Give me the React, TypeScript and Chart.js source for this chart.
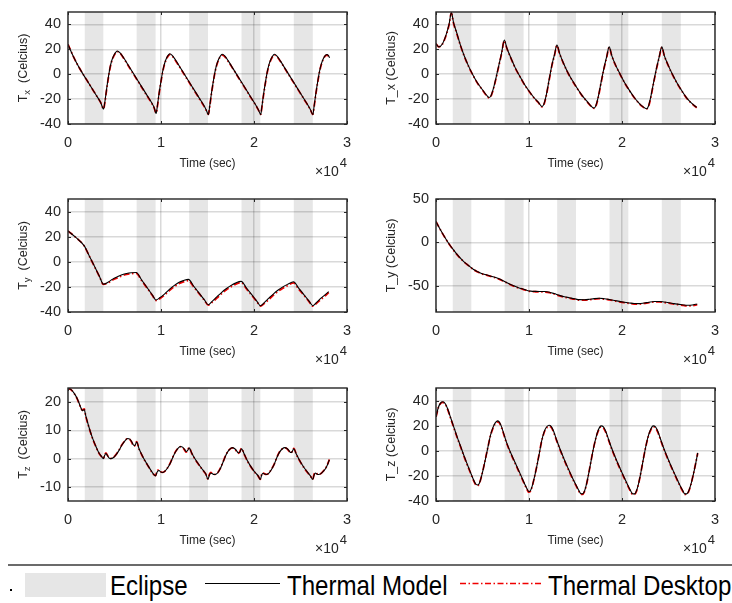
import React, { useEffect, useRef } from "react";
import { Chart, registerables } from "chart.js";

Chart.register(...registerables);

// ---------------- data ----------------
const eclipseStart = [1800, 7380, 13030, 18660, 24280];
const eclipseEnd = [3800, 9420, 15050, 20680, 26320];

const xTickValues = [0, 10000, 20000, 30000];
const xTickLabels = ["0", "1", "2", "3"];

const yTicksStd = [-40, -20, 0, 20, 40];
const yTicksTyRight = [-50, 0, 50];
const yTicksTzLeft = [-10, 0, 10, 20];

// Panel 1: T_x (left)
const p1Time = [0, 500, 1000, 1500, 2000, 2500, 3000, 3500, 3830, 3950, 4150, 4350, 4550, 4750, 4950, 5150, 5300, 5600, 6000, 6500, 7000, 7500, 8000, 8500, 9000, 9250, 9480, 9600, 9800, 10000, 10200, 10400, 10600, 10800, 10950, 11200, 11600, 12100, 12600, 13100, 13600, 14100, 14600, 14850, 15100, 15220, 15420, 15620, 15820, 16020, 16220, 16420, 16600, 16850, 17250, 17750, 18250, 18750, 19250, 19750, 20250, 20500, 20720, 20840, 21040, 21240, 21440, 21640, 21840, 22040, 22200, 22450, 22850, 23350, 23850, 24350, 24850, 25350, 25850, 26100, 26330, 26450, 26650, 26850, 27050, 27250, 27450, 27650, 27850, 28000, 28130];
const p1Model = [24, 15.5, 8, 1.5, -4.5, -10.5, -16.5, -22.5, -28,
  -23, -12, -2, 6.5, 12, 15.5, 17.8, 18.7,
  17.2, 13, 7, 1, -5, -11, -17, -23, -26.5, -31.5,
  -26, -15, -5.5, 3, 9, 13, 15.5, 16.5,
  15.2, 11, 5, -1, -7, -13, -19, -25, -28.5, -32.5,
  -26.5, -15.5, -6, 2.5, 8.5, 12.5, 15, 16,
  14.7, 10.5, 4.5, -1.5, -7.5, -13.5, -19.5, -25.5, -29, -32.5,
  -26.5, -15.5, -6, 2.5, 8.5, 12.5, 15, 16,
  14.7, 10.5, 4.5, -1.5, -7.5, -13.5, -19.5, -25.5, -29, -32.5,
  -26.5, -15.5, -6, 2.5, 8.5, 12.5, 15, 15.8, 15, 13.3];
const p1Desktop = [24, 15.5, 8, 1.5, -4.5, -10.5, -16.5, -22.5, -27.8,
  -23.5, -12.5, -2.5, 6, 11.5, 15, 17.3, 18.2,
  16.8, 12.6, 6.6, 0.6, -5.4, -11.4, -17.4, -23.3, -26.8, -31.2,
  -26.5, -15.5, -6, 2.5, 8.5, 12.5, 15, 15.8,
  14.7, 10.5, 4.6, -1.4, -7.4, -13.4, -19.4, -25.4, -28.8, -32.2,
  -27, -16, -6.5, 2, 8, 12, 14.5, 15.3,
  14.2, 10.1, 4.2, -1.8, -7.8, -13.8, -19.8, -25.7, -29.2, -32.3,
  -27, -16, -6.5, 2, 8, 12, 14.5, 15.4,
  14.3, 10.2, 4.2, -1.8, -7.8, -13.8, -19.8, -25.7, -29.2, -32.3,
  -27, -16, -6.5, 2, 8, 12, 14.5, 15.3, 14.5, 12.8];

// Panel 2: T_x (right)
const p2Time = [0, 300, 700, 1100, 1400, 1650, 1900, 2200, 2600, 3000, 3500, 4000, 4500, 5000, 5400, 5700, 5900, 6150, 6450, 6750, 7050, 7350, 7600, 8000, 8500, 9000, 9500, 10000, 10500, 11000, 11400, 11600, 11850, 12150, 12450, 12750, 13000, 13300, 13700, 14200, 14700, 15200, 15700, 16200, 16600, 17000, 17200, 17450, 17750, 18050, 18350, 18620, 18900, 19300, 19800, 20300, 20800, 21300, 21800, 22200, 22650, 22850, 23100, 23400, 23700, 24000, 24280, 24550, 24950, 25450, 25950, 26450, 26950, 27450, 28030];
const p2Model = [24.5, 22, 24.5, 32, 40, 49.5,
  41, 34, 24, 15.5, 6.5, -1, -7.5, -12.5, -16.5, -18.7,
  -17.5, -12, -3, 7, 17, 27.5,
  21.5, 14, 5.5, -1.5, -8, -13.5, -18.5, -22.5, -26,
  -24, -17, -5, 7, 16, 23.5,
  16.5, 9, 1, -5.5, -11.5, -17, -21.5, -25, -27.2,
  -25, -18, -6.5, 4.5, 14, 22,
  15, 7.5, 0, -7, -13, -18.5, -23, -25.8, -27.7,
  -25.5, -18, -6.5, 4.5, 14, 22,
  15, 7.5, -0.5, -7.5, -13.5, -19, -23, -26.7];
const p2Desktop = [24.5, 22, 24.3, 31.5, 39.5, 49,
  40.5, 33.5, 23.7, 15.2, 6.3, -1.2, -7.7, -12.7, -16.8, -19,
  -17.8, -12.5, -3.5, 6.5, 16.5, 27,
  21.2, 13.8, 5.3, -1.7, -8.2, -13.7, -18.7, -22.7, -26.3,
  -24.5, -17.5, -5.5, 6.5, 15.5, 23,
  16.2, 8.8, 0.8, -5.7, -11.7, -17.2, -21.7, -25.2, -27.4,
  -25.5, -18.5, -7, 4, 13.5, 21.5,
  14.8, 7.3, -0.2, -7.2, -13.2, -18.7, -23.2, -26, -27.9,
  -26, -18.5, -7, 4, 13.5, 21.5,
  14.8, 7.3, -0.7, -7.7, -13.7, -19.2, -23.2, -26.9];

// Panel 3: T_y (left)
const p3Time = [0, 900, 1750, 2300, 2900, 3400, 3800, 4300, 4800, 5300, 5800, 6300, 6800, 7350, 7900, 8500, 9100, 9450, 9900, 10400, 10900, 11400, 11900, 12400, 12950, 13500, 14100, 14650, 15080, 15500, 16000, 16500, 17000, 17500, 18000, 18620, 19200, 19800, 20300, 20700, 21100, 21600, 22100, 22600, 23100, 23600, 24250, 24800, 25400, 25900, 26320, 26700, 27200, 27600, 28030];
const p3Model = [24.5, 19, 12.7,
  4.5, -4.4, -11.9, -17.8,
  -16.3, -13.8, -12, -10.4, -9.3, -8.7, -8.5,
  -14.3, -20.5, -26.8, -30.5,
  -28.5, -25.5, -22, -19, -16.5, -15, -14,
  -19.3, -25, -30.1, -34.2,
  -31.5, -28, -24.5, -21.5, -19, -17, -15.6,
  -21, -26.6, -31.3, -35,
  -32.5, -29, -25.5, -22.5, -20, -18, -15.9,
  -21, -26.5, -31.1, -35,
  -32.5, -29, -26.5, -23.8];
const p3Desktop = [24.5, 19, 12.5,
  4.3, -4.6, -12.1, -18,
  -16.8, -14.5, -12.8, -11.2, -10.1, -9.5, -9.2,
  -14.8, -20.9, -27.1, -30.8,
  -29.3, -26.4, -23, -20, -17.5, -16, -15,
  -19.9, -25.4, -30.5, -34.5,
  -32.3, -29, -25.5, -22.5, -20, -18, -16.5,
  -21.7, -27.1, -31.7, -35.3,
  -33.3, -30, -26.5, -23.5, -21, -19, -16.8,
  -21.7, -27, -31.5, -35.3,
  -33.3, -30, -27.4, -24.5];

// Panel 4: T_y (right)
const p4Time = [0, 400, 800, 1300, 1860, 2400, 2930, 3500, 4000, 4500, 4890, 5500, 6140, 6700, 7210, 7750, 8280, 8800, 9350, 9800, 10200, 10700, 11140, 11700, 12210, 12700, 13280, 13800, 14350, 14900, 15420, 15950, 16490, 17000, 17560, 18100, 18640, 19200, 19710, 20250, 20780, 21300, 21850, 22400, 22920, 23450, 23990, 24500, 25060, 25600, 26130, 26600, 27020, 27550, 28090];
const p4Model = [24, 16, 8.6, 0, -8.3, -15.5, -21.4, -26.5, -30.8, -33.8, -35.7, -37.5, -39.5, -41.5, -44, -47, -49.6, -51.8, -53.6, -55.2, -56, -56.3, -56.4, -56.5, -57.3, -58.8, -60.9, -62.4, -63.6, -64.8, -65.8, -65.9, -65.4, -64.6, -64.2, -64.7, -65.6, -66.7, -67.8, -68.8, -69.6, -70.3, -70.4, -69.6, -68.7, -68, -67.9, -68.5, -69.4, -70.4, -71.2, -71.9, -72.3, -72, -70.7];
const p4Desktop = [24, 16, 8.4, -0.2, -8.5, -15.7, -21.6, -26.7, -31, -34, -35.9, -37.8, -39.8, -41.8, -44.3, -47.3, -49.9, -52.1, -53.9, -55.5, -56.4, -56.7, -56.8, -57, -57.8, -59.3, -61.4, -62.9, -64.1, -65.3, -66.3, -66.4, -65.9, -65.1, -64.7, -65.2, -66.1, -67.2, -68.3, -69.3, -70.1, -70.8, -70.9, -70.1, -69.2, -68.5, -68.4, -69, -69.9, -70.9, -71.7, -72.5, -73, -72.8, -71.5];

// Panel 5: T_z (left)
const p5Time = [0, 300, 650, 1000, 1350, 1550, 1650, 1750, 1900, 2250, 2600, 2950, 3300, 3600, 3800,
  3950, 4080, 4220, 4400, 4600, 4900, 5200, 5500, 5800, 6100, 6400, 6650, 6850, 7000, 7150, 7250, 7380,
  7650, 7950, 8250, 8550, 8850, 9150, 9420,
  9550, 9650, 9800, 9950, 10150, 10400, 10700, 11000, 11300, 11600, 11900, 12100, 12350, 12550, 12700, 12850, 13030,
  13300, 13600, 13900, 14200, 14500, 14800, 15050,
  15200, 15350, 15500, 15700, 15900, 16100, 16400, 16700, 17000, 17300, 17650, 17900, 18100, 18300, 18450, 18660,
  18950, 19250, 19550, 19850, 20150, 20450, 20680,
  20820, 20950, 21100, 21300, 21550, 21850, 22150, 22450, 22750, 23050, 23300, 23550, 23750, 23900, 24050, 24280,
  24550, 24850, 25150, 25450, 25750, 26050, 26320,
  26460, 26600, 26750, 26950, 27200, 27450, 27700, 27900, 28100];
const p5Model = [24.8, 24.5, 23.2, 21.2, 18.3, 17, 17.2, 17.4, 15.3, 11.2, 7.6, 4.7, 2.2, 0.8, 0,
  1.2, 1.8, 1.2, 0.3, 0, 0.4, 1.5, 3, 4.8, 6.2, 7.1, 6.9, 6, 5, 4.6, 5, 5.9,
  3.4, 1.3, -0.6, -2.2, -3.8, -5.3, -6.1,
  -5, -4.4, -4.2, -4.7, -4.9, -4.5, -3.3, -1.6, 0.7, 2.6, 3.9, 4.3, 4, 3.2, 2.5, 2.8, 3.8,
  2, 0.2, -1.3, -2.7, -4, -5.3, -7.3,
  -5.9, -5.1, -5.3, -5.6, -5.5, -5, -3.4, -1, 1.4, 3, 3.9, 3.6, 2.9, 2.1, 2.2, 3.5,
  1.6, -0.5, -2.2, -3.7, -5, -6.1, -7.4,
  -5.9, -5.2, -5.4, -5.6, -5.3, -4, -2.2, 0.3, 2.3, 3.5, 3.9, 3.6, 2.9, 2.2, 2.2, 3.5,
  1.6, -0.3, -2, -3.5, -4.8, -6, -7.4,
  -5.9, -5.1, -5.4, -5.6, -5.3, -4.5, -3.5, -2.2, -0.4];
const p5Desktop = [24.8, 24.5, 23.1, 21.1, 18.2, 17.1, 17.4, 17.6, 15.2, 11.1, 7.5, 4.6, 2.1, 0.7, 0.1,
  1.4, 2, 1.3, 0.4, 0.1, 0.5, 1.6, 3.1, 4.9, 6.3, 7, 6.8, 5.8, 4.7, 4.4, 5.2, 6,
  3.3, 1.2, -0.7, -2.3, -3.9, -5.4, -6,
  -4.7, -4.1, -4, -4.6, -4.9, -4.5, -3.3, -1.5, 0.8, 2.7, 3.9, 4.2, 3.8, 3, 2.3, 2.9, 3.9,
  1.9, 0.1, -1.4, -2.8, -4.1, -5.4, -7.2,
  -5.6, -4.9, -5.2, -5.6, -5.5, -5, -3.3, -0.9, 1.5, 3, 3.8, 3.5, 2.7, 1.9, 2.3, 3.6,
  1.5, -0.6, -2.3, -3.8, -5.1, -6.2, -7.3,
  -5.6, -5, -5.3, -5.6, -5.3, -3.9, -2.1, 0.4, 2.4, 3.5, 3.8, 3.5, 2.7, 2, 2.3, 3.6,
  1.5, -0.4, -2.1, -3.6, -4.9, -6.1, -7.3,
  -5.6, -4.9, -5.3, -5.6, -5.3, -4.4, -3.4, -2.1, -0.3];

// Panel 6: T_z (right)
const p6Time = [0, 250, 500, 750, 1000, 1250, 1500, 1750, 2000, 2300,
  2650, 3000, 3350, 3700, 4000, 4250, 4450, 4650, 4850, 5100,
  5350, 5600, 5850, 6100, 6350, 6600, 6800, 7000, 7250, 7500,
  7800, 8100, 8450, 8800, 9150, 9500, 9800, 9980, 10150, 10350,
  10600, 10850, 11100, 11350, 11600, 11850, 12150, 12400, 12650, 12950,
  13250, 13600, 13950, 14300, 14650, 15000, 15300, 15550, 15750, 15950,
  16200, 16450, 16700, 16950, 17200, 17450, 17750, 18000, 18250, 18550,
  18850, 19200, 19550, 19900, 20250, 20600, 20900, 21150, 21350, 21550,
  21800, 22050, 22300, 22550, 22800, 23050, 23350, 23600, 23850, 24150,
  24450, 24800, 25150, 25500, 25850, 26200, 26500, 26750, 26950, 27150,
  27400, 27650, 27900, 28140];
const p6Model = [27, 34.5, 38.2, 39, 37.5, 33.5, 28, 22.5, 17, 10.5,
  3.5, -3.8, -10.5, -17, -22.5, -26.3, -27.3, -26, -21.5, -14,
  -5.5, 3.5, 12, 18, 22, 23.8, 23, 20, 14.5, 8.5,
  2.5, -2.8, -8.5, -14.3, -20, -25.8, -30.5, -32.5, -31.8, -28,
  -20.5, -12, -2.5, 7.5, 14.5, 18.5, 20.3, 19.3, 15.5, 9,
  3, -3.5, -9.8, -15.5, -21.2, -26.5, -30.8, -34, -34.3, -32.5,
  -26, -17, -7, 2.5, 10.5, 16.5, 19.8, 19, 15.5, 9.2,
  2.8, -3.8, -10, -15.8, -21.5, -27, -31.5, -34.3, -34.3, -32,
  -25.5, -16.5, -6.5, 3, 11, 16.5, 19.8, 19, 15.5, 9.2,
  2.8, -3.8, -10, -15.8, -21.5, -27, -31.3, -34.3, -34.3, -32.5,
  -27, -19.5, -11, -1.6];
const p6Desktop = [27, 34.2, 37.8, 38.5, 37, 33, 27.5, 22, 16.5, 10,
  3, -4.3, -11, -17.5, -23, -26.8, -27.8, -26.3, -21.5, -13.8,
  -5.2, 3.5, 11.8, 17.5, 21.3, 23, 22.3, 19.4, 14, 8,
  2, -3.3, -9, -14.8, -20.5, -26.3, -31, -33, -32.2, -28.2,
  -20.5, -11.8, -2.3, 7.3, 14, 17.8, 19.5, 18.5, 14.8, 8.5,
  2.5, -4, -10.3, -16, -21.7, -27, -31.3, -34.5, -34.8, -32.8,
  -26.2, -17, -6.8, 2.5, 10.2, 15.8, 19, 18.3, 14.8, 8.6,
  2.3, -4.3, -10.5, -16.3, -22, -27.5, -32, -34.8, -34.8, -32.3,
  -25.7, -16.5, -6.3, 3, 10.7, 15.8, 19, 18.3, 14.8, 8.6,
  2.3, -4.3, -10.5, -16.3, -22, -27.5, -31.8, -34.8, -34.8, -32.8,
  -27.2, -19.5, -10.8, -2];

// ---------------- layout / styling ----------------
const FONT = '"Liberation Sans", Arial, Helvetica, sans-serif';
const AXIS_COLOR = "#262626";
const RED = "#f00000";

type PanelSpec = {
  key: string;
  left: number;
  top: number;
  width: number;
  height: number;
  padTop: number;
  padRight: number;
  yAxisWidth: number;
  xAxisHeight: number;
  time: number[];
  model: number[];
  desktop: number[];
  yMin: number;
  yMax: number;
  yTicks: number[];
  yName: string;
  ySub: string | null;
  ySuffix: string;
};

const panels: PanelSpec[] = [
  { key: "p1", left: 0, top: 0, width: 366, height: 187, padTop: 12, padRight: 19, yAxisWidth: 68, xAxisHeight: 63,
    time: p1Time, model: p1Model, desktop: p1Desktop, yMin: -40, yMax: 50, yTicks: yTicksStd,
    yName: "T", ySub: "x", ySuffix: "  (Celcius)" },
  { key: "p2", left: 366, top: 0, width: 366, height: 187, padTop: 12, padRight: 17, yAxisWidth: 70, xAxisHeight: 63,
    time: p2Time, model: p2Model, desktop: p2Desktop, yMin: -40, yMax: 50, yTicks: yTicksStd,
    yName: "T_x (Celcius)", ySub: null, ySuffix: "" },
  { key: "p3", left: 0, top: 187, width: 366, height: 187, padTop: 12, padRight: 19, yAxisWidth: 68, xAxisHeight: 62,
    time: p3Time, model: p3Model, desktop: p3Desktop, yMin: -40, yMax: 50, yTicks: yTicksStd,
    yName: "T", ySub: "y", ySuffix: "  (Celcius)" },
  { key: "p4", left: 366, top: 187, width: 366, height: 187, padTop: 12, padRight: 17, yAxisWidth: 70, xAxisHeight: 62,
    time: p4Time, model: p4Model, desktop: p4Desktop, yMin: -80, yMax: 50, yTicks: yTicksTyRight,
    yName: "T_y (Celcius)", ySub: null, ySuffix: "" },
  { key: "p5", left: 0, top: 376, width: 366, height: 187, padTop: 12, padRight: 19, yAxisWidth: 68, xAxisHeight: 62,
    time: p5Time, model: p5Model, desktop: p5Desktop, yMin: -15, yMax: 25, yTicks: yTicksTzLeft,
    yName: "T", ySub: "z", ySuffix: "  (Celcius)" },
  { key: "p6", left: 366, top: 376, width: 366, height: 187, padTop: 12, padRight: 17, yAxisWidth: 70, xAxisHeight: 62,
    time: p6Time, model: p6Model, desktop: p6Desktop, yMin: -40, yMax: 50, yTicks: yTicksStd,
    yName: "T_z (Celcius)", ySub: null, ySuffix: "" },
];

function makeDecorPlugin(spec: PanelSpec) {
  return {
    id: "decor_" + spec.key,
    beforeDraw(chart: any) {
      const { ctx, chartArea: a, scales } = chart;
      const xs = scales.x;
      ctx.save();
      ctx.fillStyle = "#e6e6e6";
      for (let i = 0; i < eclipseStart.length; i++) {
        const x0 = xs.getPixelForValue(eclipseStart[i]);
        const x1 = xs.getPixelForValue(eclipseEnd[i]);
        ctx.fillRect(x0, a.top, x1 - x0, a.bottom - a.top);
      }
      ctx.restore();
    },
    afterDraw(chart: any) {
      const { ctx, chartArea: a, scales } = chart;
      const xs = scales.x;
      const ys = scales.y;
      ctx.save();
      // frame
      ctx.strokeStyle = AXIS_COLOR;
      ctx.lineWidth = 1.4;
      ctx.strokeRect(a.left, a.top, a.right - a.left, a.bottom - a.top);
      // inward tick marks
      ctx.lineWidth = 1;
      ctx.beginPath();
      for (const v of spec.yTicks) {
        const py = Math.round(ys.getPixelForValue(v)) + 0.5;
        ctx.moveTo(a.left, py);
        ctx.lineTo(a.left + 3, py);
        ctx.moveTo(a.right - 3, py);
        ctx.lineTo(a.right, py);
      }
      for (const v of xTickValues) {
        const px = Math.round(xs.getPixelForValue(v)) + 0.5;
        ctx.moveTo(px, a.bottom);
        ctx.lineTo(px, a.bottom - 3);
        ctx.moveTo(px, a.top);
        ctx.lineTo(px, a.top + 3);
      }
      ctx.stroke();

      ctx.fillStyle = AXIS_COLOR;
      // x title
      ctx.font = `12px ${FONT}`;
      ctx.textAlign = "center";
      ctx.textBaseline = "middle";
      ctx.fillText("Time (sec)", (a.left + a.right) / 2, a.bottom + 39.5);
      // exponent
      ctx.textAlign = "right";
      ctx.font = `13px ${FONT}`;
      const w4 = ctx.measureText("4").width;
      ctx.fillText("4", a.right, a.bottom + 39.5);
      ctx.font = `14px ${FONT}`;
      ctx.fillText("\u00d710", a.right - w4 - 1, a.bottom + 48.5);

      // y title
      ctx.translate(a.left - 44, (a.top + a.bottom) / 2);
      ctx.rotate(-Math.PI / 2);
      ctx.textBaseline = "middle";
      ctx.textAlign = "left";
      const mainFont = `12.5px ${FONT}`;
      const subFont = `9.5px ${FONT}`;
      if (spec.ySub) {
        ctx.font = mainFont;
        const wT = ctx.measureText(spec.yName).width;
        const wR = ctx.measureText(spec.ySuffix).width;
        ctx.font = subFont;
        const wS = ctx.measureText(spec.ySub).width;
        let x = -(wT + wS + wR) / 2;
        ctx.font = mainFont;
        ctx.fillText(spec.yName, x, 0);
        x += wT;
        ctx.font = subFont;
        ctx.fillText(spec.ySub, x, 3.5);
        x += wS;
        ctx.font = mainFont;
        ctx.fillText(spec.ySuffix, x, 0);
      } else {
        ctx.font = mainFont;
        ctx.textAlign = "center";
        ctx.fillText(spec.yName, 0, 0);
      }
      ctx.restore();
    },
  };
}

function buildConfig(spec: PanelSpec): any {
  const modelPts = spec.time.map((t, i) => ({ x: t, y: spec.model[i] }));
  const desktopPts = spec.time.map((t, i) => ({ x: t, y: spec.desktop[i] }));
  const tickFont = { family: FONT, size: 14.5 };
  return {
    type: "line",
    data: {
      datasets: [
        {
          label: "Thermal Model",
          data: modelPts,
          borderColor: "#000000",
          borderWidth: 1.1,
          pointRadius: 0,
          fill: false,
          cubicInterpolationMode: "monotone",
        },
        {
          label: "Thermal Desktop",
          data: desktopPts,
          borderColor: RED,
          borderWidth: 1.8,
          borderDash: [6, 2.5, 1.5, 2.5],
          pointRadius: 0,
          fill: false,
          cubicInterpolationMode: "monotone",
        },
      ],
    },
    options: {
      responsive: false,
      animation: false,
      devicePixelRatio: 1,
      events: [],
      layout: { padding: { top: spec.padTop, right: spec.padRight, left: 0, bottom: 0 } },
      plugins: { legend: { display: false }, tooltip: { enabled: false }, title: { display: false } },
      scales: {
        x: {
          type: "linear",
          min: 0,
          max: 30000,
          afterBuildTicks: (scale: any) => {
            scale.ticks = xTickValues.map((v) => ({ value: v }));
          },
          afterFit: (scale: any) => {
            scale.height = spec.xAxisHeight;
            scale.paddingLeft = 0;
            scale.paddingRight = 0;
          },
          ticks: {
            autoSkip: false,
            maxRotation: 0,
            padding: 10,
            color: AXIS_COLOR,
            font: tickFont,
            callback: (_v: any, i: number) => xTickLabels[i],
          },
          grid: { color: "rgba(0,0,0,0.15)", lineWidth: 1.5, drawTicks: false },
          border: { display: false },
        },
        y: {
          type: "linear",
          min: spec.yMin,
          max: spec.yMax,
          afterBuildTicks: (scale: any) => {
            scale.ticks = spec.yTicks.map((v) => ({ value: v }));
          },
          afterFit: (scale: any) => {
            scale.width = spec.yAxisWidth;
            scale.paddingTop = 0;
            scale.paddingBottom = 0;
          },
          ticks: {
            padding: 7,
            color: AXIS_COLOR,
            font: tickFont,
            callback: (v: any) => String(v),
          },
          grid: { color: "rgba(0,0,0,0.15)", lineWidth: 1.5, drawTicks: false },
          border: { display: false },
        },
      },
    },
    plugins: [makeDecorPlugin(spec)],
  };
}

function PanelChart({ spec }: { spec: PanelSpec }) {
  const ref = useRef<HTMLCanvasElement | null>(null);
  useEffect(() => {
    if (!ref.current) return;
    const chart = new Chart(ref.current, buildConfig(spec));
    return () => chart.destroy();
  }, [spec]);
  return (
    <canvas
      ref={ref}
      width={spec.width}
      height={spec.height}
      style={{ position: "absolute", left: spec.left, top: spec.top, width: spec.width, height: spec.height }}
    />
  );
}

const legendText: React.CSSProperties = {
  position: "absolute",
  top: 572,
  font: `28px ${FONT}`,
  lineHeight: "28px",
  color: "#000",
  whiteSpace: "nowrap",
  transform: "scaleX(0.86)",
  transformOrigin: "0 0",
};

export default function App() {
  return (
    <div
      style={{
        position: "absolute",
        left: 0,
        top: 0,
        width: 732,
        height: 603,
        background: "#ffffff",
        overflow: "hidden",
      }}
    >
      {panels.map((p) => (
        <PanelChart key={p.key} spec={p} />
      ))}
      {/* legend */}
      <div style={{ position: "absolute", left: 8, top: 564, width: 724, height: 2, background: "#6b6b6b" }} />
      <div style={{ position: "absolute", left: 10, top: 589, width: 2, height: 2, background: "#000" }} />
      <div style={{ position: "absolute", left: 25, top: 573, width: 81, height: 24, background: "#e6e6e6" }} />
      <div style={{ ...legendText, left: 110 }}>Eclipse</div>
      <div style={{ ...legendText, left: 287 }}>Thermal Model</div>
      <div style={{ ...legendText, left: 548 }}>Thermal Desktop</div>
      <svg
        width={732}
        height={40}
        style={{ position: "absolute", left: 0, top: 565 }}
      >
        <line x1={205} y1={18.5} x2={280} y2={18.5} stroke="#000000" strokeWidth={1.2} />
        <line x1={460} y1={18.5} x2={542} y2={18.5} stroke={RED} strokeWidth={1.5} strokeDasharray="6 2.5 1.5 2.5" />
      </svg>
    </div>
  );
}
